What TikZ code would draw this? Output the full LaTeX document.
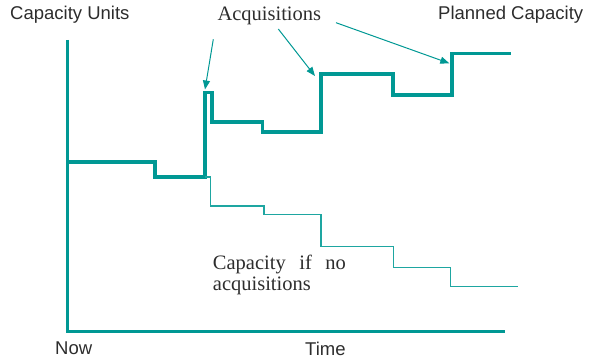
\documentclass[tikz,border=0pt]{standalone}
\usepackage{fontspec}
\setmainfont{Liberation Serif}
\setsansfont{Liberation Sans}
\usetikzlibrary{arrows.meta}
\definecolor{teal1}{RGB}{0,152,148}
\definecolor{teal2}{RGB}{30,166,161}
\definecolor{txt}{RGB}{45,45,45}
\begin{document}
\begin{tikzpicture}[x=1pt,y=-1pt,
  sanslabel/.style={font=\sffamily\fontsize{18.5}{22}\selectfont, text=txt, inner sep=0pt, anchor=base west},
  seriflabel/.style={font=\rmfamily\fontsize{20.5}{21.7}\selectfont, text=txt, inner sep=0pt, anchor=base west},
  axisline/.style={draw=teal1, line width=3.5pt, line join=miter},
  planned/.style={draw=teal1, line width=3.5pt, line join=miter},
  noacq/.style={draw=teal2, line width=1.3pt, line join=miter},
  pointer/.style={draw=teal1, line width=1pt, -{Triangle[length=9pt,width=7pt]}}]
\useasboundingbox (0,0) rectangle (591,361);
% labels
\node[sanslabel] (units) at (10,19.5) {Capacity Units};
\node[sanslabel] (plan) at (438,20) {Planned Capacity};
\node[sanslabel] (now) at (55,354) {Now};
\node[sanslabel] (time) at (305,355.7) {Time};
\node[seriflabel] (acq) at (217.3,20.7) {Acquisitions};
\node[seriflabel, align=left] (noacqlabel) at (212.7,290.7) {\makebox[133pt][s]{Capacity if no}\\acquisitions};
% axes
\coordinate (ytop) at (67.5,40);
\coordinate (origin) at (67.5,331.7);
\coordinate (xend) at (505,331.7);
\draw[axisline] (ytop) -- (origin) -- (xend);
% planned capacity
\coordinate (p0) at (67.5,162);
\coordinate (split) at (205,177);
\draw[planned] (p0) -- (155,162) -- (155,177) -- (split) -- (205,92.5) -- (212,92.5) -- (212,122) -- (262.5,122) -- (262.5,132) -- (321,132) -- (321,74) -- (393,74) -- (393,95) -- (452,95) -- (452,53.5) -- (511,53.5);
% capacity without acquisitions
\draw[noacq] (split) -- (210.7,177) -- (210.7,206) -- (264,206) -- (264,214.5) -- (321,214.5) -- (321,246.7) -- (393.5,246.7) -- (393.5,267.7) -- (450.5,267.7) -- (450.5,286.7) -- (518,286.7);
% pointers
\coordinate (a1s) at (213.3,39.3);
\coordinate (a1e) at (205,89.5);
\coordinate (a2s) at (278.3,29);
\coordinate (a2e) at (315,76);
\coordinate (a3s) at (336,22.7);
\coordinate (a3e) at (449.3,63.3);
\draw[pointer] (a1s) -- (a1e);
\draw[pointer] (a2s) -- (a2e);
\draw[pointer] (a3s) -- (a3e);
\end{tikzpicture}
\end{document}
